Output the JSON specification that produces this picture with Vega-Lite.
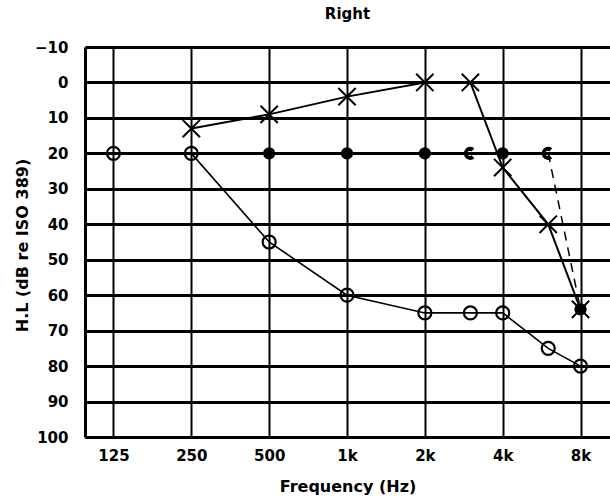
{
  "$schema": "https://vega.github.io/schema/vega-lite/v6.json",
  "autosize": {"type": "none"},
  "padding": {"left": 85, "top": 47, "right": 0, "bottom": 64},
  "width": 525,
  "height": 390,
  "background": "white",
  "title": {"text": "Right", "font": "DejaVu Sans", "fontSize": 15, "fontWeight": "bold", "color": "black", "offset": 18, "anchor": "middle"},
  "config": {"view": {"stroke": null}},
  "datasets": {
    "ac": [
      {"f": 250, "db": 13}, {"f": 500, "db": 9}, {"f": 1000, "db": 4}, {"f": 2000, "db": 0},
      {"f": 3000, "db": 0}, {"f": 4000, "db": 24}, {"f": 6000, "db": 40}, {"f": 8000, "db": 64}
    ],
    "circ": [
      {"f": 125, "db": 20}, {"f": 250, "db": 20}, {"f": 500, "db": 45}, {"f": 1000, "db": 60},
      {"f": 2000, "db": 65}, {"f": 3000, "db": 65}, {"f": 4000, "db": 65}, {"f": 6000, "db": 75}, {"f": 8000, "db": 80}
    ],
    "bc": [
      {"f": 500, "db": 20, "kind": "dot"}, {"f": 1000, "db": 20, "kind": "dot"}, {"f": 2000, "db": 20, "kind": "dot"},
      {"f": 3000, "db": 20, "kind": "c"}, {"f": 4000, "db": 20, "kind": "dot"}, {"f": 6000, "db": 20, "kind": "c"}, {"f": 8000, "db": 64, "kind": "dot"}
    ],
    "dash": [{"f": 6000, "db": 20}, {"f": 8000, "db": 64}]
  },
  "encoding": {
    "x": {"field": "f", "type": "quantitative",
      "scale": {"type": "log", "base": 2, "domain": [97, 10400], "nice": false},
      "axis": {"values": [125, 250, 500, 1000, 2000, 4000, 8000],
        "labelExpr": "datum.value >= 1000 ? (datum.value/1000) + 'k' : datum.value",
        "title": "Frequency (Hz)", "grid": true, "gridColor": "black", "gridWidth": 2, "gridOpacity": 1,
        "domain": true, "domainColor": "black", "domainWidth": 3, "ticks": false,
        "labelFont": "DejaVu Sans", "labelFontSize": 15, "labelFontWeight": "bold", "labelColor": "black", "labelPadding": 11,
        "titleFont": "DejaVu Sans", "titleFontSize": 16, "titleFontWeight": "bold", "titleColor": "black", "titlePadding": 15}},
    "y": {"field": "db", "type": "quantitative",
      "scale": {"domain": [-10, 100], "reverse": true, "nice": false},
      "axis": {"values": [-10, 0, 10, 20, 30, 40, 50, 60, 70, 80, 90, 100],
        "title": "H.L (dB re ISO 389)", "grid": true, "gridColor": "black", "gridWidth": 3, "gridOpacity": 1,
        "domain": true, "domainColor": "black", "domainWidth": 3, "ticks": false,
        "labelFont": "DejaVu Sans", "labelFontSize": 15, "labelFontWeight": "bold", "labelColor": "black", "labelPadding": 17,
        "titleFont": "DejaVu Sans", "titleFontSize": 16, "titleFontWeight": "bold", "titleColor": "black", "titleX": -55, "titleY": 198}}
  },
  "layer": [
    {"data": {"name": "circ"}, "mark": {"type": "line", "color": "black", "strokeWidth": 1.6}},
    {"data": {"name": "ac"}, "mark": {"type": "line", "color": "black", "strokeWidth": 2}},
    {"data": {"name": "dash"}, "mark": {"type": "line", "color": "black", "strokeWidth": 1.5, "strokeDash": [9, 7]}},
    {"data": {"name": "circ"}, "mark": {"type": "point", "shape": "circle", "size": 170, "filled": false, "stroke": "black", "strokeWidth": 2.2, "opacity": 1}},
    {"data": {"name": "bc"}, "transform": [{"filter": "datum.kind == 'dot'"}], "mark": {"type": "point", "shape": "circle", "size": 150, "filled": true, "color": "black", "opacity": 1}},
    {"data": {"name": "bc"}, "transform": [{"filter": "datum.kind == 'c'"}], "mark": {"type": "point", "shape": "M0.6,-0.8 A1,1 0 1,0 0.6,0.8 L0.2,0.3 A0.4,0.4 0 1,1 0.2,-0.3 Z", "size": 170, "filled": true, "color": "black", "opacity": 1}},
    {"data": {"name": "ac"}, "mark": {"type": "point", "shape": "M-1,-1L1,1M1,-1L-1,1", "size": 300, "filled": false, "stroke": "black", "strokeWidth": 2, "opacity": 1}}
  ]
}
